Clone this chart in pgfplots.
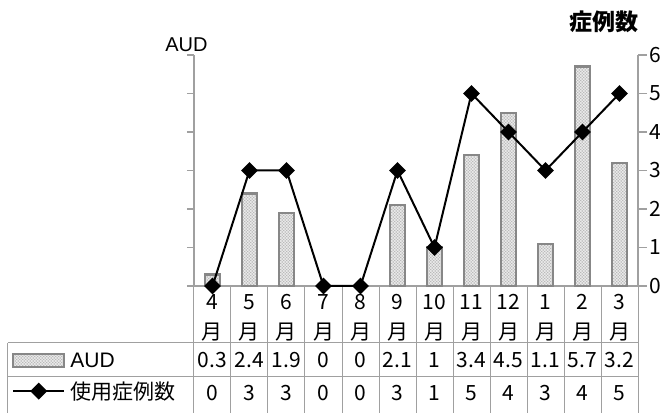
\documentclass[border=0pt]{standalone}
\usepackage{pgfplots}
\pgfplotsset{compat=1.18}
\usepackage{pgfplotstable}
\usepackage{fontspec}
\setmainfont{Liberation Sans}
\newfontfamily\jp{Noto Sans CJK JP}
\usetikzlibrary{patterns}

% month index, AUD, number of cases
\pgfplotstableread{
x aud n
0 0.3 0
1 2.4 3
2 1.9 3
3 0 0
4 0 0
5 2.1 3
6 1 1
7 3.4 5
8 4.5 4
9 1.1 3
10 5.7 4
11 3.2 5
}\datatab

\definecolor{axgray}{RGB}{160,160,160}
\definecolor{bargray}{RGB}{135,135,135}

\tikzset{
  tgrid/.style={draw=axgray, line width=1pt},
  audbar/.style={draw=bargray, line width=2.2pt, fill=gray!55,
    postaction={pattern=crosshatch, pattern color=white}},
}
\pgfplotsset{
  barleg/.style={legend image code/.code={\draw[##1] (0pt,-6.5pt) rectangle (51pt,6.5pt);}},
  lineleg/.style={legend image code/.code={\draw[mark repeat=2, mark phase=2, ##1] plot coordinates {(0pt,0pt) (25.5pt,0pt) (51pt,0pt)};}},
}

\begin{document}
\begin{tikzpicture}
\begin{axis}[
  name=ax,
  width=444pt, height=231pt, scale only axis,
  xmin=-0.5, xmax=11.5, ymin=0, ymax=6,
  axis y line*=left, axis x line*=bottom,
  axis line style={draw=axgray, line width=1.3pt},
  clip=false,
  ytick={0,...,6}, yticklabels={},
  tick align=outside, major tick length=7pt,
  ytick style={draw=axgray, line width=1.3pt},
  xtick={0,...,11},
  xticklabels={{4\\月},{5\\月},{6\\月},{7\\月},{8\\月},{9\\月},{10\\月},{11\\月},{12\\月},{1\\月},{2\\月},{3\\月}},
  xtick style={draw=none},
  xticklabel style={align=center, font=\jp\fontsize{21}{30}\selectfont, inner sep=0pt, yshift=-1pt},
  ylabel={AUD},
  ylabel style={rotate=-90, at={(rel axis cs:-0.017,1)}, anchor=south, inner sep=0pt, yshift=3pt,
    font=\fontsize{20}{24}\selectfont},
]
\addplot[ybar, bar width=15pt, audbar] table[x=x, y=aud] {\datatab};
% table values below the plot
\addplot[draw=none, mark=none, nodes near coords, point meta=explicit symbolic,
  nodes near coords align={center},
  nodes near coords style={font=\jp\fontsize{21}{24}\selectfont}]
  table[x=x, y expr=-1.92, meta=aud] {\datatab};
\addplot[draw=none, mark=none, nodes near coords, point meta=explicit symbolic,
  nodes near coords align={center},
  nodes near coords style={font=\jp\fontsize{21}{24}\selectfont}]
  table[x=x, y expr=-2.78, meta=n] {\datatab};
% table grid
\pgfplotsinvokeforeach{0,...,12}{
  \draw[tgrid] (axis cs:#1-0.5,0) -- (axis cs:#1-0.5,-3.3);
}
\draw[tgrid] (axis cs:-5.527,-1.4805) -- (axis cs:11.5,-1.4805);
\draw[tgrid] (axis cs:-5.527,-2.3636) -- (axis cs:11.5,-2.3636);
\draw[tgrid] (axis cs:-5.527,-1.4805) -- (axis cs:-5.527,-3.3);
\end{axis}

\begin{axis}[
  width=444pt, height=231pt, scale only axis,
  xmin=-0.5, xmax=11.5, ymin=0, ymax=6,
  axis x line=none, axis y line*=right,
  axis line style={draw=axgray, line width=1.3pt},
  clip=false,
  ytick={0,...,6},
  tick align=outside, major tick length=9pt,
  ytick style={draw=axgray, line width=1.3pt},
  /pgf/number format/assume math mode=true,
  yticklabel style={font=\jp\fontsize{21}{24}\selectfont, inner sep=0pt, anchor=west, xshift=2pt},
  ylabel={症例数},
  ylabel style={rotate=-90, at={(rel axis cs:0.924,1)}, anchor=south, inner sep=0pt, yshift=22pt,
    font=\jp\bfseries\fontsize{23}{25}\selectfont},
  legend style={draw=none, fill=none, inner sep=0pt, at={(axis cs:-5.42,-1.727)}, anchor=north west,
    nodes={inner sep=0pt, font=\fontsize{21}{24}\selectfont}, row sep=13pt},
  legend cell align=left,
]
\addlegendimage{audbar, barleg}
\addlegendentry{\hspace{5pt}AUD}
\addplot[black, line width=2pt, mark=square*, mark size=5pt, mark options={rotate=45, solid}, lineleg]
  table[x=x, y=n] {\datatab};
\addlegendentry{\hspace{5pt}\jp 使用症例数}
\end{axis}
\path[use as bounding box] ([xshift=-194pt,yshift=-121pt]ax.south west) rectangle ([xshift=28pt,yshift=55pt]ax.north east);
\end{tikzpicture}
\end{document}
